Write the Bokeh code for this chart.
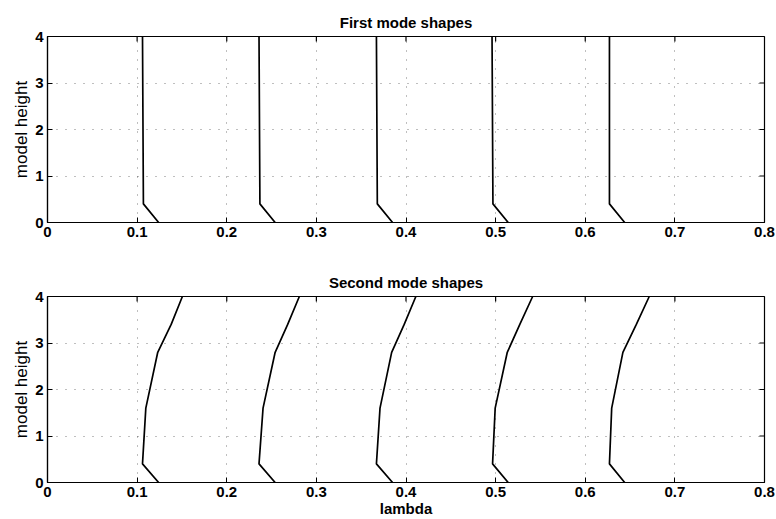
import math
from bokeh.plotting import figure
from bokeh.models import Range1d, FixedTicker
from bokeh.layouts import column
from bokeh.embed import file_html
from bokeh.resources import INLINE

# ---- data ----
x_ticks = [0, 0.1, 0.2, 0.3, 0.4, 0.5, 0.6, 0.7, 0.8]
y_ticks = [0, 1, 2, 3, 4]

first_heights = [0, 0.4, 4]
first_mode_1 = [0.124, 0.107, 0.106]
first_mode_2 = [0.254, 0.237, 0.236]
first_mode_3 = [0.385, 0.368, 0.367]
first_mode_4 = [0.514, 0.497, 0.496]
first_mode_5 = [0.644, 0.627, 0.627]

second_heights = [0, 0.4, 1.6, 2.8, 3.4, 4]
second_mode_1 = [0.124, 0.106, 0.1097, 0.123, 0.138, 0.1505]
second_mode_2 = [0.254, 0.236, 0.2405, 0.254, 0.268, 0.281]
second_mode_3 = [0.385, 0.367, 0.371, 0.384, 0.398, 0.411]
second_mode_4 = [0.514, 0.4966, 0.4995, 0.513, 0.527, 0.5413]
second_mode_5 = [0.644, 0.627, 0.6295, 0.642, 0.657, 0.6714]

FONT = "Liberation Sans"


def make(title, heights, curves, height, xlabel, bottom):
    x0, x1 = x_ticks[0], x_ticks[-1]
    y0, y1 = y_ticks[0], y_ticks[-1]
    p = figure(width=776, height=height, x_range=Range1d(x0, x1), y_range=Range1d(y0, y1),
               output_backend="svg", toolbar_location=None, title=title,
               min_border_left=47, min_border_right=12, min_border_top=36,
               min_border_bottom=bottom)
    p.title.align = "center"
    p.title.text_font = FONT
    p.title.text_font_size = "15px"
    p.title.text_font_style = "bold"
    p.title.text_color = "black"
    p.title.standoff = 11
    p.outline_line_color = "black"
    p.outline_line_width = 1.2
    p.background_fill_color = "white"
    p.border_fill_color = "white"

    for ax in (p.xaxis[0], p.yaxis[0]):
        ax.major_tick_in = 5
        ax.major_tick_out = 0
        ax.minor_tick_line_color = None
        ax.axis_line_color = "black"
        ax.axis_line_width = 1.2
        ax.major_tick_line_color = "black"
        ax.major_label_text_font = FONT
        ax.major_label_text_font_size = "15px"
        ax.major_label_text_font_style = "bold"
        ax.major_label_text_color = "black"
        ax.axis_label_text_font = FONT
        ax.axis_label_text_color = "black"
    p.xaxis[0].ticker = FixedTicker(ticks=x_ticks)
    p.yaxis[0].ticker = FixedTicker(ticks=y_ticks)
    p.xaxis[0].major_label_overrides = {t: ("0" if t == 0 else f"{t:.1f}") for t in x_ticks}
    p.xaxis[0].major_label_standoff = 4
    p.yaxis[0].major_label_standoff = 4
    p.yaxis[0].axis_label = "model height"
    p.yaxis[0].axis_label_text_font_size = "17px"
    p.yaxis[0].axis_label_text_font_style = "normal"
    p.yaxis[0].axis_label_standoff = 1
    if xlabel:
        p.xaxis[0].axis_label = xlabel
        p.xaxis[0].axis_label_text_font_size = "15px"
        p.xaxis[0].axis_label_text_font_style = "bold"
        p.xaxis[0].axis_label_standoff = 0

    # inward ticks on the top and right edges of the frame (MATLAB box)
    top_x = x_ticks[1:-1]
    p.ray(x=top_x, y=[y1] * len(top_x), length=5, length_units="screen",
          angle=-math.pi / 2, line_color="black", line_width=1.2)
    right_y = y_ticks[1:-1]
    p.ray(x=[x1] * len(right_y), y=right_y, length=5, length_units="screen",
          angle=math.pi, line_color="black", line_width=1.2)

    p.xgrid.ticker = FixedTicker(ticks=x_ticks[1:-1])
    p.ygrid.ticker = FixedTicker(ticks=y_ticks[1:-1])
    for g in (p.xgrid, p.ygrid):
        g.grid_line_color = "black"
        g.grid_line_alpha = 0.5
        g.grid_line_dash = "1 8"
        g.grid_line_width = 1

    for c in curves:
        p.line(c, heights, line_color="black", line_width=1.7)
    return p


p1 = make("First mode shapes", first_heights,
          [first_mode_1, first_mode_2, first_mode_3, first_mode_4, first_mode_5],
          260, None, 38)
p2 = make("Second mode shapes", second_heights,
          [second_mode_1, second_mode_2, second_mode_3, second_mode_4, second_mode_5],
          259, "lambda", 37)

layout = column(p1, p2, spacing=0)
open("out.html", "w").write(file_html(layout, INLINE))
